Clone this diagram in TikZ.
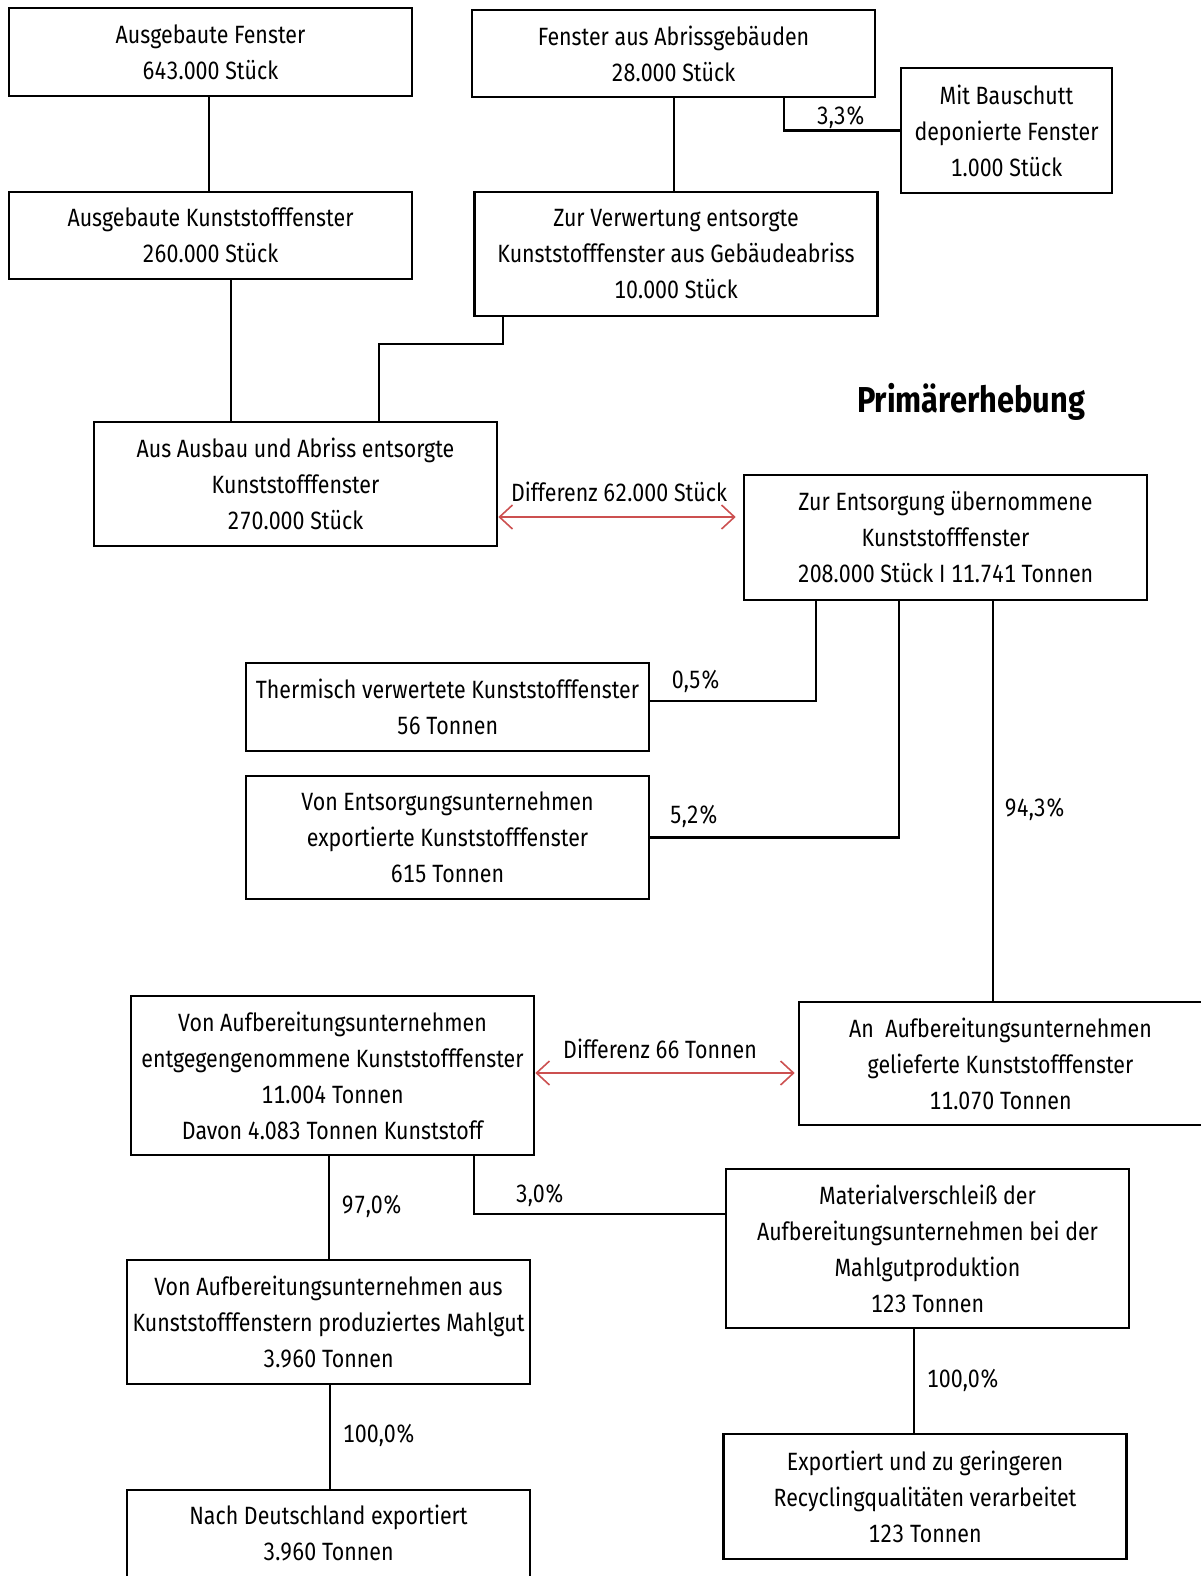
\documentclass[tikz,border=0pt]{standalone}
\usepackage{fontspec}
\setmainfont{Fira Sans}[FakeStretch=0.855, Numbers=Monospaced]
\usetikzlibrary{arrows.meta}
\definecolor{diffred}{RGB}{204,80,80}

\begin{document}
\begin{tikzpicture}
    [x=1pt, y=-1pt,
    box/.style={draw, line width=2.6pt, minimum width=403pt, inner sep=0pt, align=center,
        font=\fontsize{25}{36}\selectfont},
    share/.style={inner sep=0pt, font=\fontsize{25}{36}\selectfont},
    flow/.style={line width=2.2pt},
    diff/.style={draw=diffred, line width=1.6pt,
        {Straight Barb[length=13pt,width=24pt]}-{Straight Barb[length=13pt,width=24pt]}}]
    \useasboundingbox (0,0) rectangle (1200,1576);
    % Ausbau
    \node[box, minimum height=88pt] (1) at (210.5, 52) {Ausgebaute Fenster\\643.000 Stück};
    \node[box, minimum height=87pt] (2) at (210.5, 235.5) {Ausgebaute Kunststofffenster\\260.000 Stück};
    % Abriss
    \node[box, minimum height=87pt] (3) at (673.5, 53.5) {Fenster aus Abrissgebäuden\\28.000 Stück};
    \node[box, minimum width=211pt, minimum height=125pt] (4) at (1006.5, 130.5) {Mit Bauschutt\\deponierte Fenster\\1.000 Stück};
    \node[box, minimum height=124pt] (5) at (676, 254) {Zur Verwertung entsorgte\\Kunststofffenster aus Gebäudeabriss\\10.000 Stück};
    \node[box, minimum height=124pt] (6) at (295.5, 484) {Aus Ausbau und Abriss entsorgte\\Kunststofffenster\\270.000 Stück};
    %
    \node[inner sep=0pt, anchor=base, font=\fontsize{36}{40}\bfseries] (PE) at (971, 412) {Primärerhebung};
    \node[box, minimum height=125pt] (7) at (945.5, 537.5) {Zur Entsorgung übernommene\\Kunststofffenster\\208.000 Stück I 11.741 Tonnen};
    \node[box, minimum height=88pt] (8) at (447.5, 707) {Thermisch verwertete Kunststofffenster\\56 Tonnen};
    \node[box, minimum height=123pt] (9) at (447.5, 837.5) {Von Entsorgungsunternehmen\\exportierte Kunststofffenster\\615 Tonnen};
    \node[box, minimum height=123pt] (10) at (1000.5, 1063.5) {An\ \ Aufbereitungsunternehmen\\gelieferte Kunststofffenster\\11.070 Tonnen};
    % Aufbereitung
    \node[box, minimum height=159pt] (11) at (332.5, 1075.5) {Von Aufbereitungsunternehmen\\entgegengenommene Kunststofffenster\\11.004 Tonnen\\Davon 4.083 Tonnen Kunststoff};
    \node[box, minimum height=159pt] (12) at (927.5, 1248.5) {Materialverschleiß der\\Aufbereitungsunternehmen bei der\\Mahlgutproduktion\\123 Tonnen};
    \node[box, minimum height=124pt] (13) at (328.5, 1322) {Von Aufbereitungsunternehmen aus\\Kunststofffenstern produziertes Mahlgut\\3.960 Tonnen};
    \node[box, minimum height=87pt] (14) at (328.5, 1533.5) {Nach Deutschland exportiert\\3.960 Tonnen};
    \node[box, minimum height=125pt] (15) at (925, 1496.5) {Exportiert und zu geringeren\\Recyclingqualitäten verarbeitet\\123 Tonnen};
    %
    \node[share] (p1) at (841, 117) {3,3\%};
    \node[share] (d1) at (619, 492) {Differenz 62.000 Stück};
    \node[share] (p2) at (696, 681) {0,5\%};
    \node[share] (p3) at (694, 816) {5,2\%};
    \node[share] (p4) at (1035, 809) {94,3\%};
    \node[share] (d2) at (660, 1049) {Differenz 66 Tonnen};
    \node[share] (p5) at (372, 1206) {97,0\%};
    \node[share] (p6) at (540, 1195) {3,0\%};
    \node[share] (p7) at (963, 1380) {100,0\%};
    \node[share] (p8) at (379, 1435) {100,0\%};
    %
    \coordinate (b5) at (503, 344);
    \coordinate (b8) at (816, 701);
    \coordinate (b11) at (474, 1214);
    %
    \draw[flow] (209,0 |- 1.south) -- (209,0 |- 2.north);
    \draw[flow] (231,0 |- 2.south) -- (231,0 |- 6.north);
    \draw[flow] (674,0 |- 3.south) -- (674,0 |- 5.north);
    \draw[flow] (784,0 |- 3.south) |- (4.west);
    \draw[flow] (b5 |- 5.south) -- (b5) -| (379,0 |- 6.north);
    \draw[diff] (6.east |- 0,517) -- ([xshift=-7pt]7.west |- 0,517);
    \draw[flow] (b8 |- 7.south) -- (b8) -- (8.east |- b8);
    \draw[flow] (899,0 |- 7.south) |- (9.east);
    \draw[flow] (993,0 |- 7.south) -- (993,0 |- 10.north);
    \draw[diff] (11.east |- 0,1073) -- ([xshift=-3pt]10.west |- 0,1073);
    \draw[flow] (329,0 |- 11.south) -- (329,0 |- 13.north);
    \draw[flow] (b11 |- 11.south) -- (b11) -- (12.west |- b11);
    \draw[flow] (914,0 |- 12.south) -- (914,0 |- 15.north);
    \draw[flow] (330,0 |- 13.south) -- (330,0 |- 14.north);
\end{tikzpicture}
\end{document}
